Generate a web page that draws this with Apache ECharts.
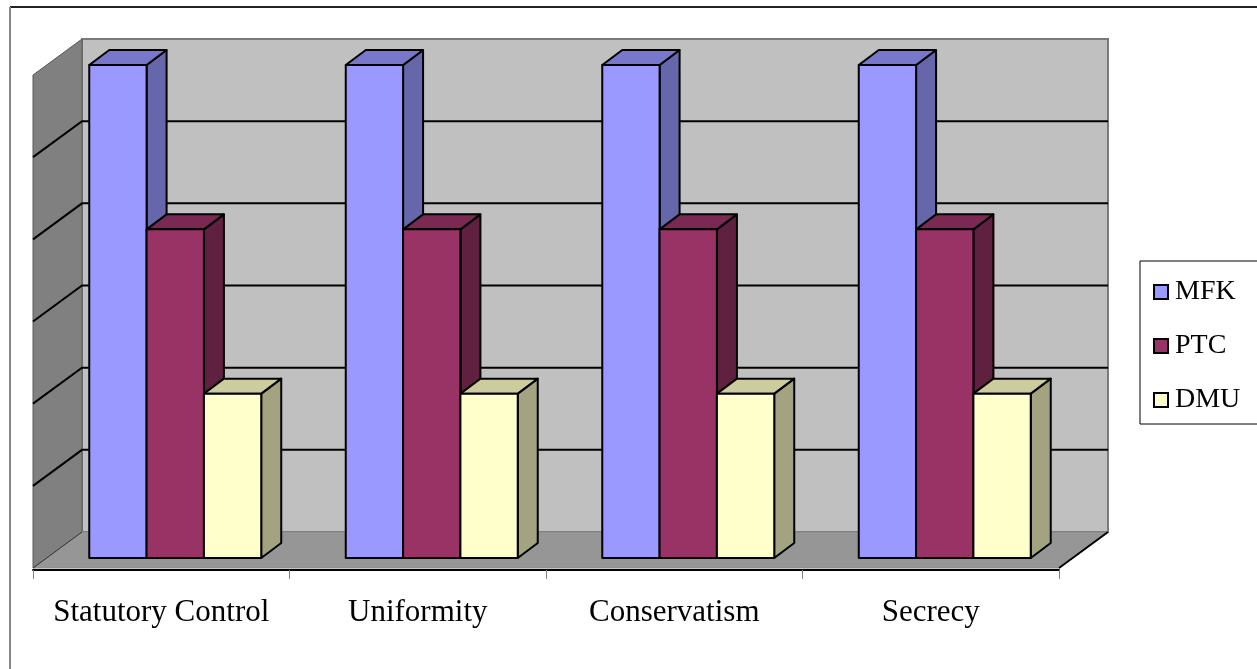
<!DOCTYPE html>
<html>
<head>
<meta charset="utf-8">
<script src="https://cdn.jsdelivr.net/npm/echarts@6/dist/echarts.min.js"></script>
<style>
html,body{margin:0;padding:0;background:#fff;}
#chart{width:1257px;height:669px;}
</style>
</head>
<body>
<div id="chart"></div>
<script>
// ---- data ----
const categories = ['Statutory Control', 'Uniformity', 'Conservatism', 'Secrecy'];
const seriesNames = ['MFK', 'PTC', 'DMU'];
const mfkValues = [6, 6, 6, 6];
const ptcValues = [4, 4, 4, 4];
const dmuValues = [2, 2, 2, 2];
const valueTicks = [0, 1, 2, 3, 4, 5, 6];

// ---- styles ----
const FONT = '"Liberation Serif", "Times New Roman", serif';
const BAR_SHIFT = [14, -10];   // from floor front edge to bar front plane
const BACK_SHIFT = [35, -26];  // from bar front plane to back wall
const BAR_DEPTH = [20, -15];
const BAR_FRACTION = 0.2235;
const palettes = [
  { front: '#9999FF', top: '#7777CC', side: '#6666AA' },
  { front: '#993366', top: '#7A2952', side: '#602040' },
  { front: '#FFFFCC', top: '#CCCC9E', side: '#A3A382' }
];
const seriesValues = [mfkValues, ptcValues, dmuValues];

function renderWalls(params, api) {
  const cs = params.coordSys;
  const x0 = cs.x, x1 = cs.x + cs.width;
  const vMin = valueTicks[0], vMax = valueTicks[valueTicks.length - 1];
  const yb = api.coord([0, vMin])[1];
  const yt = api.coord([0, vMax])[1];
  const bx = BACK_SHIFT[0], by = BACK_SHIFT[1];
  const fx = -BAR_SHIFT[0], fy = -BAR_SHIFT[1];
  const children = [];
  children.push({
    type: 'rect',
    shape: { x: x0 + bx, y: yt + by, width: cs.width, height: yb - yt },
    style: { fill: '#C0C0C0', stroke: '#7a7a7a', lineWidth: 2 }
  });
  children.push({
    type: 'polygon',
    shape: { points: [[x0 + fx, yb + fy], [x0 + fx, yt + fy], [x0 + bx, yt + by], [x0 + bx, yb + by]] },
    style: { fill: '#808080', stroke: '#5a5a5a', lineWidth: 1 }
  });
  children.push({
    type: 'polygon',
    shape: { points: [[x0 + fx, yb + fy], [x1 + fx, yb + fy], [x1 + bx, yb + by], [x0 + bx, yb + by]] },
    style: { fill: '#969696', stroke: '#888', lineWidth: 1 }
  });
  valueTicks.forEach(function (v) {
    if (v === vMin || v === vMax) return;
    const y = api.coord([0, v])[1];
    children.push({
      type: 'polyline',
      shape: { points: [[x0 + fx, y + fy], [x0 + bx, y + by], [x1 + bx, y + by]] },
      style: { stroke: '#000', lineWidth: 2, fill: null }
    });
  });
  children.push({
    type: 'polyline',
    shape: { points: [[x0 + fx, yb + fy], [x0 + bx, yb + by]] },
    style: { stroke: '#333', lineWidth: 1, fill: null }
  });
  children.push({
    type: 'polyline',
    shape: { points: [[x1 + fx, yb + fy], [x1 + bx, yb + by]] },
    style: { stroke: '#000', lineWidth: 2, fill: null }
  });
  return { type: 'group', children: children };
}

function makeBarRenderer(idx) {
  const pal = palettes[idx];
  const n = seriesNames.length;
  return function (params, api) {
    const cat = api.value(0), val = api.value(1);
    const base = api.coord([cat, 0]);
    const top = api.coord([cat, val]);
    const band = api.size([1, 0])[0];
    const w = band * BAR_FRACTION;
    const xl = base[0] - (n / 2) * w + idx * w;
    const xr = xl + w;
    const yb = base[1], yt = top[1];
    const dx = BAR_DEPTH[0], dy = BAR_DEPTH[1];
    const edge = { stroke: '#000', lineWidth: 2, lineJoin: 'round' };
    return {
      type: 'group',
      children: [
        { type: 'polygon', shape: { points: [[xr, yb], [xr, yt], [xr + dx, yt + dy], [xr + dx, yb + dy]] },
          style: Object.assign({ fill: pal.side }, edge) },
        { type: 'polygon', shape: { points: [[xl, yt], [xr, yt], [xr + dx, yt + dy], [xl + dx, yt + dy]] },
          style: Object.assign({ fill: pal.top }, edge) },
        { type: 'rect', shape: { x: xl, y: yt, width: w, height: yb - yt },
          style: Object.assign({ fill: pal.front }, edge) }
      ]
    };
  };
}

const chart = echarts.init(document.getElementById('chart'), null, { renderer: 'canvas' });

const barSeries = seriesNames.map(function (name, i) {
  return {
    name: name,
    type: 'custom',
    xAxisIndex: 0,
    yAxisIndex: 0,
    renderItem: makeBarRenderer(i),
    itemStyle: { color: palettes[i].front },
    encode: { x: 0, y: 1 },
    data: seriesValues[i].map(function (v, c) { return [c, v]; }),
    z: 3 + i
  };
});

chart.setOption({
  animation: false,
  backgroundColor: '#fff',
  graphic: [
    { type: 'line', shape: { x1: 10, y1: 7, x2: 1257, y2: 7 }, style: { stroke: '#222', lineWidth: 2 } },
    { type: 'line', shape: { x1: 10, y1: 7, x2: 10, y2: 669 }, style: { stroke: '#888', lineWidth: 2 } }
  ],
  legend: {
    data: seriesNames,
    orient: 'vertical',
    left: 1140,
    top: 261,
    padding: [17, 20, 10, 13],
    itemGap: 26,
    itemWidth: 14,
    itemHeight: 14,
    icon: 'rect',
    itemStyle: { borderColor: '#000', borderWidth: 2 },
    borderColor: '#000',
    borderWidth: 1,
    backgroundColor: '#fff',
    selectedMode: false,
    textStyle: { fontFamily: FONT, fontSize: 28, color: '#000', padding: [0, 0, 0, 2] }
  },
  grid: [
    { left: 47, top: 65, width: 1026, height: 493 },
    { left: 33, top: 75, width: 1026, height: 495 }
  ],
  xAxis: [
    { type: 'category', gridIndex: 0, data: categories, show: false },
    {
      type: 'category', gridIndex: 1, data: categories,
      axisLine: { show: true, lineStyle: { color: '#000', width: 2 } },
      axisTick: { show: true, length: 9, lineStyle: { color: '#808080', width: 1 } },
      axisLabel: { fontFamily: FONT, fontSize: 31, color: '#000', margin: 27, interval: 0 },
      splitLine: { show: false }
    }
  ],
  yAxis: [
    { type: 'value', gridIndex: 0, min: 0, max: 6, interval: 1, show: false },
    { type: 'value', gridIndex: 1, min: 0, max: 6, interval: 1, show: false }
  ],
  series: [
    {
      name: 'walls',
      type: 'custom',
      xAxisIndex: 0,
      yAxisIndex: 0,
      renderItem: renderWalls,
      data: [[0, 0]],
      silent: true,
      z: 1
    }
  ].concat(barSeries)
});
</script>
</body>
</html>
